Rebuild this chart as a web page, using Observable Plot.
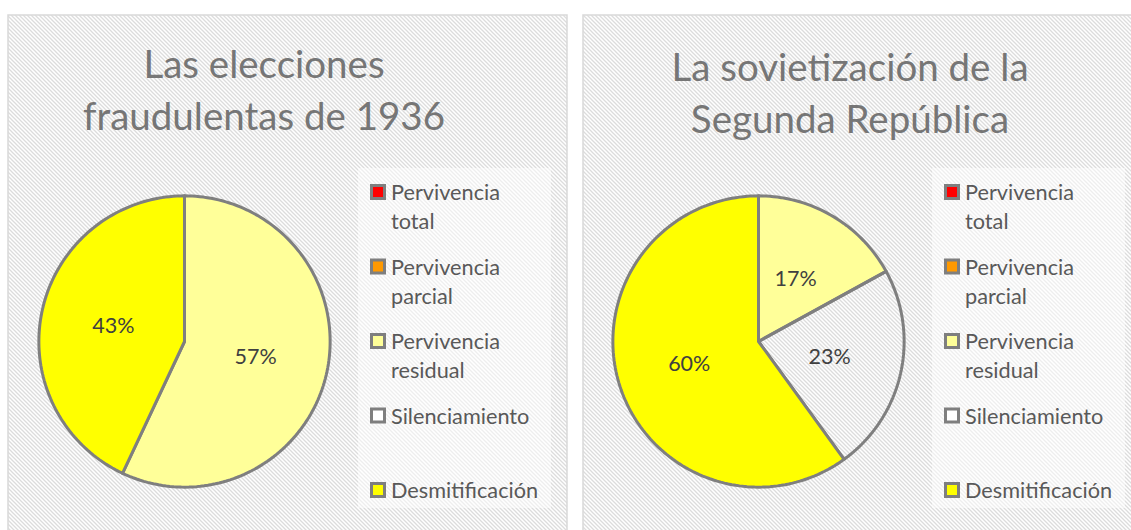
<!DOCTYPE html>
<html>
<head>
<meta charset="utf-8">
<script src="https://cdn.jsdelivr.net/npm/d3@7"></script>
<script src="https://cdn.jsdelivr.net/npm/@observablehq/plot@0.6"></script>
<style>
  html, body { margin: 0; padding: 0; background: #fff; }
  #wrap { position: relative; width: 1131px; height: 530px; overflow: hidden; }
  #bg { position: absolute; left: 0; top: 0; }
  .pie { position: absolute; }
</style>
</head>
<body>
<div id="wrap"></div>
<script>
// ---------- data ----------
const categories = ["Pervivencia total", "Pervivencia parcial", "Pervivencia residual", "Silenciamiento", "Desmitificación"];
const colors = ["#FF0000", "#FF9900", "#FFFF99", "rgba(255,255,255,0)", "#FFFF00"];
const legendSwatch = ["#FF0000", "#FF9900", "#FFFF99", "#FFFFFF", "#FFFF00"];
const legendLines = [["Pervivencia", "total"], ["Pervivencia", "parcial"], ["Pervivencia", "residual"], ["Silenciamiento"], ["Desmitificación"]];
const values1936 = [0, 0, 57, 0, 43];
const valuesSovietizacion = [0, 0, 17, 23, 60];
const titles1936 = ["Las elecciones", "fraudulentas de 1936"];
const titlesSovietizacion = ["La sovietización de la", "Segunda República"];

const FONT = "Lato, 'Open Sans', sans-serif";
const panels = [
  {left: 8, width: 559, titleX: 264, titleY: [78, 130], values: values1936, titles: titles1936, pieCx: 184, pieCy: 341, legX: 358},
  {left: 583, width: 560, titleX: 850, titleY: [81, 133], values: valuesSovietizacion, titles: titlesSovietizacion, pieCx: 758, pieCy: 341, legX: 932}
];

const wrap = d3.select("#wrap");
const svg = wrap.append("svg").attr("id", "bg").attr("width", 1131).attr("height", 530);
const defs = svg.append("defs");
const pat = defs.append("pattern").attr("id", "hatch").attr("patternUnits", "userSpaceOnUse")
  .attr("width", 4).attr("height", 4);
pat.append("rect").attr("width", 4).attr("height", 4).attr("fill", "#ffffff");
pat.append("path").attr("d", "M-1,-1 L5,5 M3,-1 L5,1 M-1,3 L1,5")
  .attr("stroke", "#dcdcdc").attr("stroke-width", 1.3);

panels.forEach(p => {
  const g = svg.append("g");
  g.append("rect").attr("x", p.left).attr("y", 15).attr("width", p.width).attr("height", 540)
    .attr("fill", "url(#hatch)").attr("stroke", "#d9d9d9").attr("stroke-width", 1.5);
  // legend box
  g.append("rect").attr("x", p.legX).attr("y", 168).attr("width", 193).attr("height", 340)
    .attr("fill", "rgba(255,255,255,0.5)");
  // title
  p.titles.forEach((t, i) => {
    g.append("text").attr("x", p.titleX).attr("y", p.titleY[i]).attr("text-anchor", "middle")
      .attr("font-family", FONT).attr("font-size", 38.5).attr("fill", "#767676").text(t);
  });
  // legend
  categories.forEach((c, i) => {
    const cy = 192 + i * 74.5;
    g.append("rect").attr("x", p.legX + 13.5).attr("y", cy - 6.5).attr("width", 13).attr("height", 13)
      .attr("fill", legendSwatch[i]).attr("stroke", "#7f7f7f").attr("stroke-width", 3);
    legendLines[i].forEach((ln, j) => {
      g.append("text").attr("x", p.legX + 33).attr("y", cy + 8 + j * 29)
        .attr("font-family", FONT).attr("font-size", 21.7).attr("fill", "#595959").text(ln);
    });
  });

  // ---------- pie through Plot ----------
  const total = d3.sum(p.values);
  let acc = 0;
  const slices = categories.map((c, i) => {
    const s = {cat: c, value: p.values[i], t0: acc / total, t1: (acc + p.values[i]) / total};
    acc += p.values[i];
    return s;
  }).filter(s => s.value > 0);
  const pts = [];
  slices.forEach(s => {
    pts.push({cat: s.cat, x: 0, y: 0});
    const n = Math.max(4, Math.ceil((s.t1 - s.t0) * 240));
    for (let k = 0; k <= n; k++) {
      const t = s.t0 + (s.t1 - s.t0) * k / n;
      pts.push({cat: s.cat, x: Math.sin(2 * Math.PI * t), y: Math.cos(2 * Math.PI * t)});
    }
  });
  const labels = slices.map(s => {
    const tm = (s.t0 + s.t1) / 2;
    return {x: 0.5 * Math.sin(2 * Math.PI * tm), y: 0.5 * Math.cos(2 * Math.PI * tm), text: Math.round(s.value / total * 100) + "%"};
  });
  const R = 1.03;
  const chart = Plot.plot({
    width: 300, height: 300, margin: 0,
    x: {domain: [-R, R], axis: null},
    y: {domain: [-R, R], axis: null},
    color: {domain: categories, range: colors},
    style: {background: "transparent", overflow: "visible"},
    marks: [
      Plot.line(pts, {x: "x", y: "y", z: "cat", fill: "cat", stroke: "#7f7f7f", strokeWidth: 3, strokeLinejoin: "round", curve: "linear-closed"}),
      Plot.text(labels, {x: "x", y: "y", text: "text", fontSize: 21.5, fill: "#404040", fontFamily: FONT})
    ]
  });
  d3.select(chart).attr("class", "pie").style("left", (p.pieCx - 150) + "px").style("top", (p.pieCy - 150) + "px");
  wrap.node().appendChild(chart);
});
</script>
</body>
</html>
